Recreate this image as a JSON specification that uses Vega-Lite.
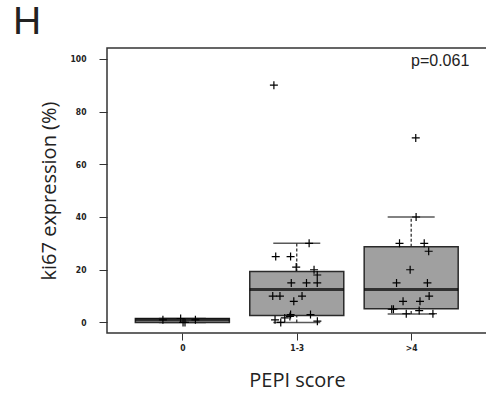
{
  "$schema": "https://vega.github.io/schema/vega-lite/v6.json",
  "width": 380,
  "height": 285,
  "autosize": {"type": "none"},
  "padding": {"left": 107, "top": 48, "right": 0, "bottom": 67},
  "background": "white",
  "title": {"text": "H", "anchor": "start", "frame": "group", "dx": -94, "dy": -6, "offset": 0, "baseline": "top", "fontSize": 39, "font": "Liberation Sans", "fontWeight": "normal", "color": "#222"},
  "datasets": {
    "boxes": [
      {"x": 1, "lower": 0, "q1": 0, "median": 1, "q3": 1.5, "upper": 1.5},
      {"x": 2, "lower": 0, "q1": 2.65, "median": 12.5, "q3": 19.3, "upper": 30},
      {"x": 3, "lower": 3.2, "q1": 5.2, "median": 12.5, "q3": 28.7, "upper": 40}
    ],
    "points": [
      {"x": 0.83, "ki67": 1},
      {"x": 0.985, "ki67": 1.5},
      {"x": 1.006, "ki67": 0},
      {"x": 1.023, "ki67": 0},
      {"x": 1.114, "ki67": 1},
      {"x": 1.80, "ki67": 90},
      {"x": 2.108, "ki67": 30},
      {"x": 1.816, "ki67": 25},
      {"x": 1.946, "ki67": 25},
      {"x": 1.995, "ki67": 21},
      {"x": 2.151, "ki67": 20},
      {"x": 2.179, "ki67": 18},
      {"x": 1.952, "ki67": 15},
      {"x": 2.085, "ki67": 15},
      {"x": 2.179, "ki67": 15},
      {"x": 1.79, "ki67": 10},
      {"x": 1.853, "ki67": 10},
      {"x": 2.046, "ki67": 10},
      {"x": 1.974, "ki67": 8},
      {"x": 2.12, "ki67": 3},
      {"x": 1.946, "ki67": 3},
      {"x": 1.81, "ki67": 1},
      {"x": 1.86, "ki67": 0},
      {"x": 1.895, "ki67": 1.7},
      {"x": 1.94, "ki67": 2.3},
      {"x": 2.18, "ki67": 0.5},
      {"x": 3.04, "ki67": 70},
      {"x": 3.043, "ki67": 40},
      {"x": 2.898, "ki67": 30},
      {"x": 3.114, "ki67": 30},
      {"x": 3.153, "ki67": 27},
      {"x": 2.991, "ki67": 20},
      {"x": 2.872, "ki67": 15},
      {"x": 3.142, "ki67": 15},
      {"x": 3.157, "ki67": 10},
      {"x": 2.929, "ki67": 8},
      {"x": 3.077, "ki67": 8},
      {"x": 2.83, "ki67": 5},
      {"x": 2.845, "ki67": 5},
      {"x": 2.957, "ki67": 3.3},
      {"x": 3.07, "ki67": 4.5},
      {"x": 3.19, "ki67": 3.3}
    ],
    "note": [{"label": "p=0.061", "x": 3.508, "y": 97.3}]
  },
  "layer": [
    {
      "data": {"name": "boxes"},
      "mark": {"type": "rule", "color": "#222", "strokeWidth": 1.2, "strokeDash": [3, 2]},
      "encoding": {
        "x": {"field": "x", "type": "quantitative", "scale": {"domain": [0.385, 3.619], "nice": false, "zero": false}, "axis": {"values": [1, 2, 3], "labelExpr": "datum.value == 1 ? '0' : datum.value == 2 ? '1-3' : '>4'", "title": "PEPI score", "tickSize": 7, "labelPadding": 3, "titlePadding": 19}},
        "y": {"field": "q3", "type": "quantitative", "scale": {"domain": [-4, 104.1], "nice": false, "zero": false}, "axis": {"values": [0, 20, 40, 60, 80, 100], "title": "ki67 expression (%)", "tickSize": 8, "labelPadding": 13, "titlePadding": 11}},
        "y2": {"field": "upper"}
      }
    },
    {
      "data": {"name": "boxes"},
      "mark": {"type": "rule", "color": "#222", "strokeWidth": 1.2, "strokeDash": [3, 2]},
      "encoding": {
        "x": {"field": "x", "type": "quantitative", "scale": {"domain": [0.385, 3.619], "nice": false, "zero": false}, "axis": {"values": [1, 2, 3], "labelExpr": "datum.value == 1 ? '0' : datum.value == 2 ? '1-3' : '>4'", "title": "PEPI score", "tickSize": 7, "labelPadding": 3, "titlePadding": 19}},
        "y": {"field": "lower", "type": "quantitative", "scale": {"domain": [-4, 104.1], "nice": false, "zero": false}, "axis": {"values": [0, 20, 40, 60, 80, 100], "title": "ki67 expression (%)", "tickSize": 8, "labelPadding": 13, "titlePadding": 11}},
        "y2": {"field": "q1"}
      }
    },
    {
      "data": {"name": "boxes"},
      "mark": {"type": "tick", "orient": "horizontal", "size": 47, "thickness": 1.5, "color": "#111"},
      "encoding": {
        "x": {"field": "x", "type": "quantitative", "scale": {"domain": [0.385, 3.619], "nice": false, "zero": false}, "axis": {"values": [1, 2, 3], "labelExpr": "datum.value == 1 ? '0' : datum.value == 2 ? '1-3' : '>4'", "title": "PEPI score", "tickSize": 7, "labelPadding": 3, "titlePadding": 19}},
        "y": {"field": "upper", "type": "quantitative", "scale": {"domain": [-4, 104.1], "nice": false, "zero": false}, "axis": {"values": [0, 20, 40, 60, 80, 100], "title": "ki67 expression (%)", "tickSize": 8, "labelPadding": 13, "titlePadding": 11}}
      }
    },
    {
      "data": {"name": "boxes"},
      "mark": {"type": "tick", "orient": "horizontal", "size": 47, "thickness": 1.5, "color": "#111"},
      "encoding": {
        "x": {"field": "x", "type": "quantitative", "scale": {"domain": [0.385, 3.619], "nice": false, "zero": false}, "axis": {"values": [1, 2, 3], "labelExpr": "datum.value == 1 ? '0' : datum.value == 2 ? '1-3' : '>4'", "title": "PEPI score", "tickSize": 7, "labelPadding": 3, "titlePadding": 19}},
        "y": {"field": "lower", "type": "quantitative", "scale": {"domain": [-4, 104.1], "nice": false, "zero": false}, "axis": {"values": [0, 20, 40, 60, 80, 100], "title": "ki67 expression (%)", "tickSize": 8, "labelPadding": 13, "titlePadding": 11}}
      }
    },
    {
      "data": {"name": "boxes"},
      "mark": {"type": "bar", "size": 94, "fill": "#a0a0a0", "stroke": "#2a2a2a", "strokeWidth": 1.5},
      "encoding": {
        "x": {"field": "x", "type": "quantitative", "scale": {"domain": [0.385, 3.619], "nice": false, "zero": false}, "axis": {"values": [1, 2, 3], "labelExpr": "datum.value == 1 ? '0' : datum.value == 2 ? '1-3' : '>4'", "title": "PEPI score", "tickSize": 7, "labelPadding": 3, "titlePadding": 19}},
        "y": {"field": "q1", "type": "quantitative", "scale": {"domain": [-4, 104.1], "nice": false, "zero": false}, "axis": {"values": [0, 20, 40, 60, 80, 100], "title": "ki67 expression (%)", "tickSize": 8, "labelPadding": 13, "titlePadding": 11}},
        "y2": {"field": "q3"}
      }
    },
    {
      "data": {"name": "boxes"},
      "mark": {"type": "tick", "orient": "horizontal", "size": 94, "thickness": 3, "color": "#000"},
      "encoding": {
        "x": {"field": "x", "type": "quantitative", "scale": {"domain": [0.385, 3.619], "nice": false, "zero": false}, "axis": {"values": [1, 2, 3], "labelExpr": "datum.value == 1 ? '0' : datum.value == 2 ? '1-3' : '>4'", "title": "PEPI score", "tickSize": 7, "labelPadding": 3, "titlePadding": 19}},
        "y": {"field": "median", "type": "quantitative", "scale": {"domain": [-4, 104.1], "nice": false, "zero": false}, "axis": {"values": [0, 20, 40, 60, 80, 100], "title": "ki67 expression (%)", "tickSize": 8, "labelPadding": 13, "titlePadding": 11}}
      }
    },
    {
      "data": {"name": "points"},
      "mark": {"type": "point", "shape": "M-1,0H1M0,-1V1", "size": 64, "filled": false, "stroke": "#000", "strokeWidth": 1.2, "opacity": 1},
      "encoding": {
        "x": {"field": "x", "type": "quantitative", "scale": {"domain": [0.385, 3.619], "nice": false, "zero": false}, "axis": {"values": [1, 2, 3], "labelExpr": "datum.value == 1 ? '0' : datum.value == 2 ? '1-3' : '>4'", "title": "PEPI score", "tickSize": 7, "labelPadding": 3, "titlePadding": 19}},
        "y": {"field": "ki67", "type": "quantitative", "scale": {"domain": [-4, 104.1], "nice": false, "zero": false}, "axis": {"values": [0, 20, 40, 60, 80, 100], "title": "ki67 expression (%)", "tickSize": 8, "labelPadding": 13, "titlePadding": 11}}
      }
    },
    {
      "data": {"name": "note"},
      "mark": {"type": "text", "align": "right", "baseline": "alphabetic", "fontSize": 16, "font": "Liberation Sans", "color": "#222"},
      "encoding": {
        "x": {"field": "x", "type": "quantitative", "scale": {"domain": [0.385, 3.619], "nice": false, "zero": false}, "axis": {"values": [1, 2, 3], "labelExpr": "datum.value == 1 ? '0' : datum.value == 2 ? '1-3' : '>4'", "title": "PEPI score", "tickSize": 7, "labelPadding": 3, "titlePadding": 19}},
        "y": {"field": "y", "type": "quantitative", "scale": {"domain": [-4, 104.1], "nice": false, "zero": false}, "axis": {"values": [0, 20, 40, 60, 80, 100], "title": "ki67 expression (%)", "tickSize": 8, "labelPadding": 13, "titlePadding": 11}},
        "text": {"field": "label"}
      }
    }
  ],
  "config": {
    "view": {"stroke": "#333", "strokeWidth": 1.5},
    "axis": {
      "domain": false,
      "grid": false,
      "tickColor": "#333",
      "tickWidth": 1,
      "labelFont": "Liberation Sans Narrow, DejaVu Sans Condensed, Liberation Sans, sans-serif",
      "labelFontSize": 8.5,
      "labelFontWeight": "bold",
      "labelColor": "#222",
      "titleFont": "Open Sans",
      "titleFontSize": 20,
      "titleFontWeight": "normal",
      "titleColor": "#222"
    }
  }
}
